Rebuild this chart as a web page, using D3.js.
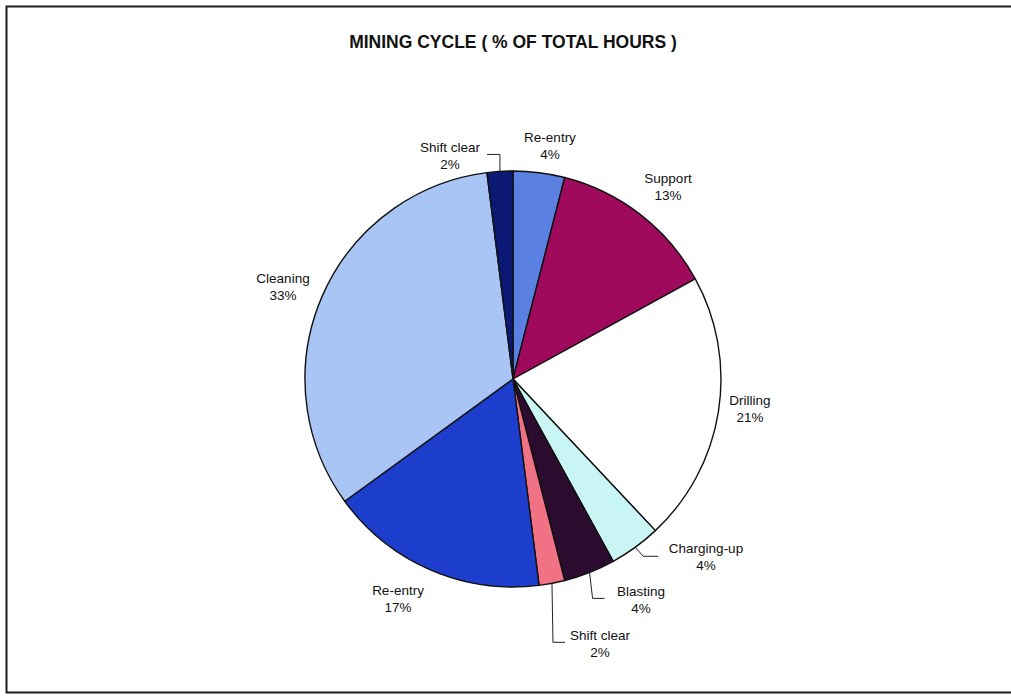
<!DOCTYPE html>
<html>
<head>
<meta charset="utf-8">
<script src="https://cdn.jsdelivr.net/npm/d3@7/dist/d3.min.js"></script>
<style>
  html, body { margin: 0; padding: 0; background: #fff; }
  svg { display: block; }
</style>
</head>
<body>
<svg id="chart" width="1011" height="696"></svg>
<script>
// Mining cycle breakdown, clockwise from 12 o'clock
const categories = ["Re-entry", "Support", "Drilling", "Charging-up", "Blasting",
                    "Shift clear", "Re-entry", "Cleaning", "Shift clear"];
const percents   = [4, 13, 21, 4, 4, 2, 17, 33, 2];
const colors     = ["#5a80e2", "#a00a5c", "#ffffff", "#c9f5f4", "#2b0b2e",
                    "#f07284", "#1d3dcd", "#a9c5f5", "#0b1874"];

// Label placement (text centre and first-line y, relative to pie centre) and leader paths
const labelLayout = [
  { dx: 37,   dy: -242, leader: null },
  { dx: 155,  dy: -201, leader: null },
  { dx: 237,  dy: 21,   leader: null },
  { dx: 193,  dy: 169,  leader: [[0, 0], [8, 9], [23, 9]] },
  { dx: 128,  dy: 212,  leader: [[0, 0], [3, 26], [15, 26]] },
  { dx: 87,   dy: 256,  leader: [[0, 0], [1, 59], [13, 59]] },
  { dx: -115, dy: 211,  leader: null },
  { dx: -230, dy: -101, leader: null },
  { dx: -63,  dy: -232, leader: [[0, 0], [0, -17], [-13, -17]] }
];

const svg = d3.select("#chart");
const W = 1011, H = 696;
const cx = 513, cy = 379, R = 208;

// outer frame
svg.append("rect")
  .attr("x", 6.5).attr("y", 6.5)
  .attr("width", W + 10).attr("height", 686)
  .attr("fill", "#fff")
  .attr("stroke", "#1e1e1e").attr("stroke-width", 2);

svg.append("text")
  .attr("x", 513).attr("y", 48)
  .attr("text-anchor", "middle")
  .attr("font-family", "Liberation Sans, Arial, sans-serif")
  .attr("font-weight", "bold")
  .attr("font-size", 17.5)
  .attr("fill", "#111")
  .text("MINING CYCLE ( % OF TOTAL HOURS )");

const pie = d3.pie().value(d => d).sort(null).startAngle(0).endAngle(2 * Math.PI);
const arcs = pie(percents);
const arc = d3.arc().innerRadius(0).outerRadius(R);

const g = svg.append("g").attr("transform", `translate(${cx},${cy})`);

g.selectAll("path.slice")
  .data(arcs)
  .join("path")
  .attr("class", "slice")
  .attr("d", arc)
  .attr("fill", (d, i) => colors[i])
  .attr("stroke", "#111")
  .attr("stroke-width", 1.4)
  .attr("stroke-linejoin", "round");

// leader lines start at the slice's mid-angle on the rim
const line = d3.line();
arcs.forEach((d, i) => {
  const L = labelLayout[i];
  if (!L.leader) return;
  const mid = (d.startAngle + d.endAngle) / 2;
  const px = R * Math.sin(mid), py = -R * Math.cos(mid);
  g.append("path")
    .attr("d", line(L.leader.map(p => [px + p[0], py + p[1]])))
    .attr("fill", "none")
    .attr("stroke", "#222")
    .attr("stroke-width", 1);
});

const fmt = d3.format(".0f");
arcs.forEach((d, i) => {
  const L = labelLayout[i];
  const t = g.append("text")
    .attr("text-anchor", "middle")
    .attr("font-family", "Liberation Sans, Arial, sans-serif")
    .attr("font-size", 13.5)
    .attr("fill", "#111");
  t.append("tspan").attr("x", L.dx).attr("y", L.dy + 5).text(categories[i]);
  t.append("tspan").attr("x", L.dx).attr("y", L.dy + 22).text(fmt(d.data) + "%");
});
</script>
</body>
</html>
